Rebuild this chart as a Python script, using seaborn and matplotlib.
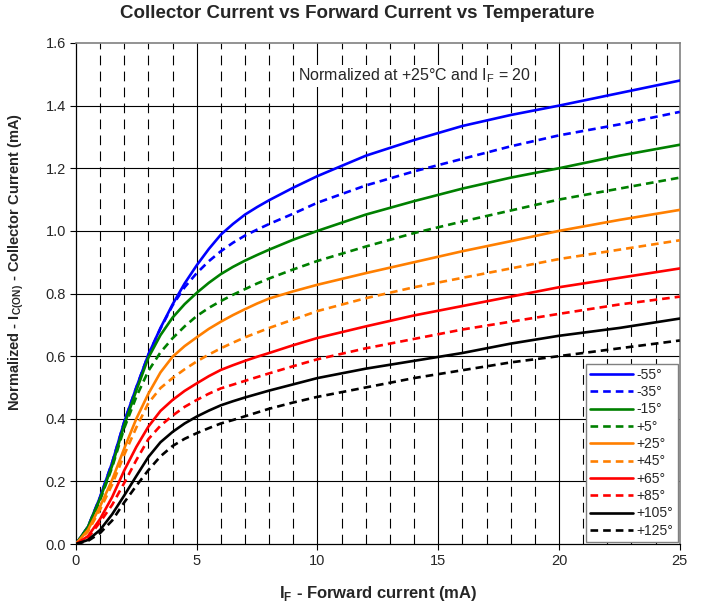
import numpy as np
import pandas as pd
import matplotlib
matplotlib.use("Agg")
import matplotlib.pyplot as plt
import seaborn as sns

# ---- data ----
x_if = [0, 0.5, 1, 1.5, 2, 2.5, 3, 3.5, 4, 4.5, 5, 5.5, 6, 6.5, 7, 7.5, 8, 9, 10, 12, 14, 16, 18, 20, 22.5, 25]

m55 = [0, 0.055, 0.15, 0.26, 0.39, 0.50, 0.605, 0.69, 0.765, 0.832, 0.89, 0.942, 0.988, 1.022, 1.052, 1.076, 1.098, 1.138, 1.175, 1.24, 1.29, 1.335, 1.37, 1.40, 1.44, 1.48]
m35 = [0, 0.055, 0.15, 0.26, 0.39, 0.50, 0.605, 0.688, 0.762, 0.82, 0.865, 0.903, 0.935, 0.962, 0.985, 1.004, 1.022, 1.055, 1.09, 1.145, 1.19, 1.23, 1.27, 1.305, 1.34, 1.38]
m15 = [0, 0.055, 0.145, 0.25, 0.38, 0.49, 0.595, 0.667, 0.723, 0.766, 0.802, 0.834, 0.862, 0.885, 0.905, 0.923, 0.94, 0.972, 1.0, 1.052, 1.095, 1.135, 1.17, 1.20, 1.24, 1.275]
p5 = [0, 0.05, 0.14, 0.245, 0.37, 0.47, 0.553, 0.612, 0.657, 0.695, 0.728, 0.754, 0.776, 0.796, 0.814, 0.832, 0.848, 0.877, 0.904, 0.95, 0.993, 1.03, 1.065, 1.10, 1.135, 1.17]
p25 = [0, 0.045, 0.12, 0.205, 0.305, 0.40, 0.48, 0.548, 0.598, 0.632, 0.66, 0.687, 0.71, 0.731, 0.75, 0.768, 0.784, 0.807, 0.828, 0.865, 0.90, 0.935, 0.967, 1.00, 1.035, 1.067]
p45 = [0, 0.04, 0.11, 0.19, 0.285, 0.372, 0.45, 0.498, 0.53, 0.558, 0.583, 0.605, 0.625, 0.643, 0.66, 0.675, 0.69, 0.717, 0.744, 0.785, 0.82, 0.85, 0.88, 0.91, 0.94, 0.97]
p65 = [0, 0.025, 0.08, 0.15, 0.235, 0.31, 0.375, 0.425, 0.46, 0.489, 0.513, 0.536, 0.556, 0.571, 0.585, 0.598, 0.61, 0.635, 0.658, 0.695, 0.73, 0.76, 0.79, 0.82, 0.85, 0.88]
p85 = [0, 0.02, 0.07, 0.125, 0.195, 0.268, 0.335, 0.378, 0.41, 0.438, 0.46, 0.48, 0.497, 0.509, 0.521, 0.533, 0.545, 0.568, 0.59, 0.625, 0.655, 0.685, 0.71, 0.735, 0.765, 0.79]
p105 = [0, 0.013, 0.045, 0.095, 0.155, 0.217, 0.278, 0.325, 0.358, 0.385, 0.407, 0.426, 0.443, 0.456, 0.468, 0.479, 0.49, 0.51, 0.53, 0.56, 0.585, 0.61, 0.64, 0.665, 0.69, 0.72]
p125 = [0, 0.01, 0.035, 0.075, 0.133, 0.186, 0.236, 0.28, 0.313, 0.336, 0.354, 0.37, 0.385, 0.396, 0.408, 0.42, 0.432, 0.452, 0.47, 0.50, 0.53, 0.555, 0.58, 0.60, 0.625, 0.65]

labels = ["-55°", "-35°", "-15°", "+5°", "+25°", "+45°", "+65°", "+85°", "+105°", "+125°"]
series = [m55, m35, m15, p5, p25, p45, p65, p85, p105, p125]
colors = ["#0000FF", "#0000FF", "#008000", "#008000", "#FF7F00", "#FF7F00",
          "#FF0000", "#FF0000", "#000000", "#000000"]
dashed = [False, True] * 5

x_ticks = [0, 5, 10, 15, 20, 25]
y_ticks = [0.0, 0.2, 0.4, 0.6, 0.8, 1.0, 1.2, 1.4, 1.6]

# ---- style ----
sns.set_theme(style="white")
plt.rcParams["font.family"] = ["Liberation Sans", "DejaVu Sans"]
plt.rcParams["mathtext.fontset"] = "custom"
plt.rcParams["mathtext.rm"] = "Liberation Sans"
plt.rcParams["mathtext.bf"] = "Liberation Sans:bold"
plt.rcParams["lines.scale_dashes"] = False

fig = plt.figure(figsize=(7.03, 6.02), dpi=100)
ax = fig.add_axes([0.108, 0.0963, 0.859, 0.8323])

# grid
for xv in range(1, 25):
    if xv % 5 == 0:
        ax.axvline(xv, color="black", lw=0.8, zorder=1)
    else:
        ax.axvline(xv, color="black", lw=0.8, ls=(0, (7, 4.5)), zorder=1)
for yv in y_ticks[1:-1]:
    ax.axhline(yv, color="black", lw=0.8, zorder=1)

df = pd.DataFrame({"x": x_if})
for lab, vals, col, d in zip(labels, series, colors, dashed):
    df[lab] = vals
    ls = (0, (5.5, 3.6)) if d else "-"
    sns.lineplot(data=df, x="x", y=lab, color=col, linestyle=ls, lw=1.9,
                 label=lab, ax=ax, legend=False, zorder=3)

ax.set_xlim(0, 25)
ax.set_ylim(0, 1.6)
ax.set_xticks(x_ticks)
ax.set_yticks(y_ticks)
ax.set_yticklabels([f"{v:.1f}" for v in y_ticks])
ax.tick_params(axis="both", direction="out", length=4, width=0.8, color="black",
               labelsize=10.5, pad=3, left=True, bottom=True)

for side in ["top", "right"]:
    ax.spines[side].set_color("#808080")
    ax.spines[side].set_linewidth(1.2)
for side in ["left", "bottom"]:
    ax.spines[side].set_color("black")
    ax.spines[side].set_linewidth(0.9)

ax.set_xlabel(r"I$_\mathbf{F}$ - Forward current (mA)", fontsize=12, fontweight="bold", labelpad=12)
ax.set_ylabel(r"Normalized - I$_\mathbf{C(ON)}$ - Collector Current (mA)", fontsize=10.5,
              fontweight="bold")
ax.yaxis.set_label_coords(-0.082, 0.563)
fig.text(0.5086, 0.977, "Collector Current vs Forward Current vs Temperature", fontsize=13.5,
         fontweight="bold", ha="center", va="center")

ax.text(14.0, 1.495, r"Normalized at +25°C and I$_\mathrm{F}$ = 20", fontsize=11.5,
        ha="center", va="center", zorder=4,
        bbox=dict(facecolor="white", edgecolor="none", pad=1))

leg = ax.legend(loc="lower right", fontsize=10, frameon=True, fancybox=False,
                edgecolor="#808080", framealpha=1, borderaxespad=0.15,
                handlelength=3.1, handletextpad=0.25, labelspacing=0.24,
                borderpad=0.3)
leg.get_frame().set_linewidth(1.0)
leg.set_zorder(5)

fig.savefig("out.png", dpi=100)
